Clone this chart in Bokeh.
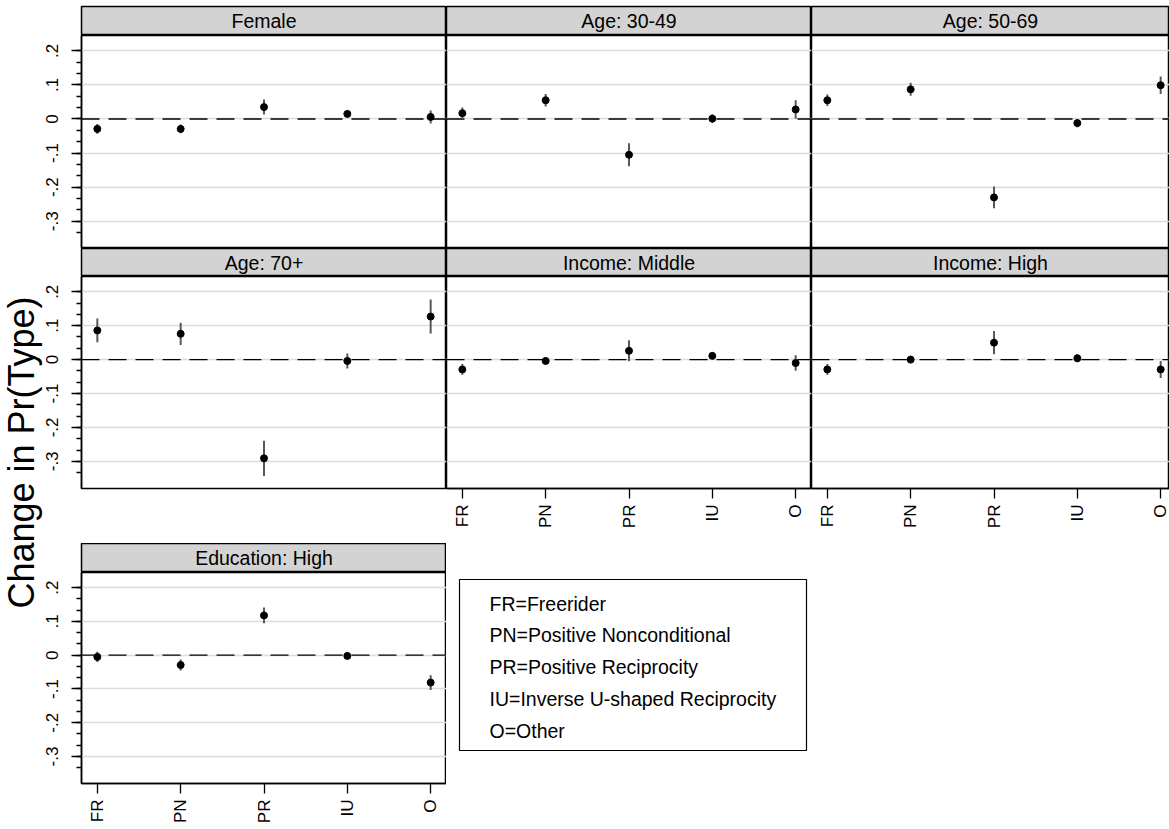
from math import pi
from bokeh.plotting import figure
from bokeh.layouts import row, column
from bokeh.models import Range1d, FixedTicker, Span
from bokeh.core.properties import value
from bokeh.embed import file_html
from bokeh.resources import INLINE

# ---------------- data ----------------
types = ["FR", "PN", "PR", "IU", "O"]
panel_titles = ["Female", "Age: 30-49", "Age: 50-69", "Age: 70+",
                "Income: Middle", "Income: High", "Education: High"]

female_est = [-0.029, -0.029, 0.035, 0.015, 0.006]
female_ci = [0.014, 0.013, 0.022, 0.007, 0.019]
age3049_est = [0.017, 0.055, -0.105, 0.001, 0.028]
age3049_ci = [0.017, 0.018, 0.034, 0.013, 0.027]
age5069_est = [0.055, 0.087, -0.230, -0.012, 0.099]
age5069_ci = [0.017, 0.019, 0.032, 0.012, 0.026]
age70_est = [0.086, 0.076, -0.291, -0.004, 0.127]
age70_ci = [0.035, 0.033, 0.052, 0.022, 0.050]
incmid_est = [-0.029, -0.004, 0.026, 0.011, -0.010]
incmid_ci = [0.016, 0.008, 0.031, 0.011, 0.023]
inchigh_est = [-0.029, 0.000, 0.050, 0.004, -0.029]
inchigh_ci = [0.016, 0.011, 0.034, 0.012, 0.025]
eduhigh_est = [-0.005, -0.029, 0.118, -0.002, -0.081]
eduhigh_ci = [0.015, 0.016, 0.023, 0.005, 0.022]

y_ticks = [-0.3, -0.2, -0.1, 0.0, 0.1, 0.2]
y_tick_labels = ["-.3", "-.2", "-.1", "0", ".1", ".2"]
y_title = "Change in Pr(Type)"
legend_lines = ["FR=Freerider", "PN=Positive Nonconditional",
                "PR=Positive Reciprocity", "IU=Inverse U-shaped Reciprocity",
                "O=Other"]

# ---------------- style / layout ----------------
FONT = "Liberation Sans"
STRIP_FILL = "#d3d3d3"
GRID_COL = "#dcdcdc"
BAR_COL = "#585858"
X0, X1 = 0.81, 5.19
Y0, Y1 = -0.38, 0.245
FRAME_W = 365
PX_PER_UNIT = FRAME_W / (X1 - X0)
LEFT_AX = 43
TITLE_W = 44
TITLE_OVERLAP = 6
TOTAL_W = 1169
TOTAL_H = 829
GRID_X = TITLE_W - TITLE_OVERLAP
COL_W = [LEFT_AX + FRAME_W, FRAME_W, TOTAL_W - GRID_X - (LEFT_AX + FRAME_W) - FRAME_W]

xs = [i + 1 for i in range(len(types))]
y_minor = [round(-1 / 3 + k / 30, 5) for k in range(17)]


def strip(title, w, h, border_left, border_top=0):
    s = figure(width=w, height=h, x_range=Range1d(0, 1), y_range=Range1d(0, 1),
               x_axis_location=None, y_axis_location=None,
               min_border_left=border_left, min_border_right=0, min_border_top=border_top,
               min_border_bottom=0, toolbar_location=None, output_backend="svg",
               background_fill_color=STRIP_FILL, border_fill_color=None,
               outline_line_color="black", outline_line_width=1.5)
    s.xgrid.visible = False
    s.ygrid.visible = False
    s.text(x=[0.5], y=[0.5], text=[title], text_align="center", text_baseline="middle",
           text_font=value(FONT), text_font_size="19.5px", text_color="black")
    return s


def panel(est, ci, w, h, border_left, border_bottom, has_y, has_x):
    frame_w = w - border_left
    p = figure(width=w, height=h,
               x_range=Range1d(X0, X0 + frame_w / PX_PER_UNIT), y_range=Range1d(Y0, Y1),
               x_axis_location="below" if has_x else None,
               y_axis_location="left" if has_y else None,
               min_border_left=border_left, min_border_right=0, min_border_top=0,
               min_border_bottom=border_bottom, toolbar_location=None, output_backend="svg",
               background_fill_color="white", border_fill_color=None,
               outline_line_color="black", outline_line_width=1.5)
    p.xgrid.visible = False
    p.ygrid.ticker = FixedTicker(ticks=y_ticks)
    p.ygrid.grid_line_color = GRID_COL
    p.ygrid.grid_line_width = 1.5
    p.add_layout(Span(location=0, dimension="width", line_color="black",
                      line_width=1.3, line_dash="18 9", level="underlay"))
    lo = [e - c for e, c in zip(est, ci)]
    hi = [e + c for e, c in zip(est, ci)]
    p.segment(x0=xs, y0=lo, x1=xs, y1=hi, line_color=BAR_COL, line_width=2)
    p.scatter(x=xs, y=est, size=7, fill_color="black", line_color="black")
    if has_y:
        ax = p.yaxis[0]
        ax.ticker = FixedTicker(ticks=y_ticks, minor_ticks=y_minor)
        ax.major_label_overrides = {t: l for t, l in zip(y_ticks, y_tick_labels)}
        ax.major_label_orientation = "parallel"
        ax.major_label_standoff = 13
        ax.major_tick_out = 10
        ax.major_tick_in = 0
        ax.minor_tick_out = 5
        ax.minor_tick_in = 0
        ax.major_tick_line_width = 1.3
        ax.minor_tick_line_width = 1.3
        ax.axis_line_color = "black"
        ax.axis_line_width = 1.5
        ax.major_label_text_font = FONT
        ax.major_label_text_font_size = "17px"
        ax.major_label_text_color = "black"
    if has_x:
        ax = p.xaxis[0]
        ax.ticker = FixedTicker(ticks=xs)
        ax.major_label_overrides = {x: t for x, t in zip(xs, types)}
        ax.major_label_orientation = pi / 2
        ax.major_label_standoff = 6
        ax.major_tick_out = 10
        ax.major_tick_in = 0
        ax.minor_tick_line_color = None
        ax.major_tick_line_width = 1.3
        ax.axis_line_color = "black"
        ax.axis_line_width = 1.5
        ax.major_label_text_font = FONT
        ax.major_label_text_font_size = "17px"
        ax.major_label_text_color = "black"
    return p


# title column (slightly overlapped by the transparent left border of column 1)
tfig = figure(width=TITLE_W, height=TOTAL_H, x_range=Range1d(0, TITLE_W),
              y_range=Range1d(TOTAL_H, 0), x_axis_location=None, y_axis_location=None,
              min_border=0, toolbar_location=None, output_backend="svg",
              outline_line_color=None, margin=(0, -TITLE_OVERLAP, 0, 0))
tfig.xgrid.visible = False
tfig.ygrid.visible = False
tfig.text(x=[20.7], y=[452], text=[y_title], angle=pi / 2,
          text_align="center", text_baseline="middle",
          text_font=value(FONT), text_font_size="36px", text_color="black")

ests = [female_est, age3049_est, age5069_est, age70_est, incmid_est, inchigh_est, eduhigh_est]
cis = [female_ci, age3049_ci, age5069_ci, age70_ci, incmid_ci, inchigh_ci, eduhigh_ci]
borders = [LEFT_AX, 0, 0]

# row 1 (strip frame 6-35, panel frame 35-248)
r1s = row([strip(panel_titles[i], COL_W[i], 35, borders[i], 6) for i in range(3)], spacing=0)
r1p = row([panel(ests[i], cis[i], COL_W[i], 213, borders[i], 0, i == 0, False)
           for i in range(3)], spacing=0)
# row 2 (strip 248-276, panel frame 276-488, axis space to 543)
r2s = row([strip(panel_titles[3 + i], COL_W[i], 28, borders[i]) for i in range(3)], spacing=0)
r2p = row([panel(ests[3 + i], cis[3 + i], COL_W[i], 267, borders[i], 55, i == 0, i > 0)
           for i in range(3)], spacing=0)
# row 3 (strip 543-572, panel frame 572-783, axis to 829)
s7 = strip(panel_titles[6], COL_W[0], 29, LEFT_AX)
p7 = panel(ests[6], cis[6], COL_W[0], 257, LEFT_AX, 46, True, True)

lw = COL_W[1] + COL_W[2]
lh = 29 + 257
leg = figure(width=lw, height=lh, x_range=Range1d(0, lw), y_range=Range1d(lh, 0),
             x_axis_location=None, y_axis_location=None, min_border=0,
             toolbar_location=None, output_backend="svg", outline_line_color=None)
leg.xgrid.visible = False
leg.ygrid.visible = False
leg.quad(left=[13], right=[360], top=[36], bottom=[207], fill_color="white",
         line_color="black", line_width=1.2)
leg.text(x=[43] * len(legend_lines), y=[60 + 31.75 * i for i in range(len(legend_lines))],
         text=legend_lines, text_align="left", text_baseline="middle",
         text_font=value(FONT), text_font_size="19.5px", text_color="black")

r3 = row([column([s7, p7], spacing=0), leg], spacing=0)
grid = column([r1s, r1p, r2s, r2p, r3], spacing=0)
layout = row([tfig, grid], spacing=0)

open("out.html", "w").write(file_html(layout, INLINE, title="Change in Pr(Type)"))
